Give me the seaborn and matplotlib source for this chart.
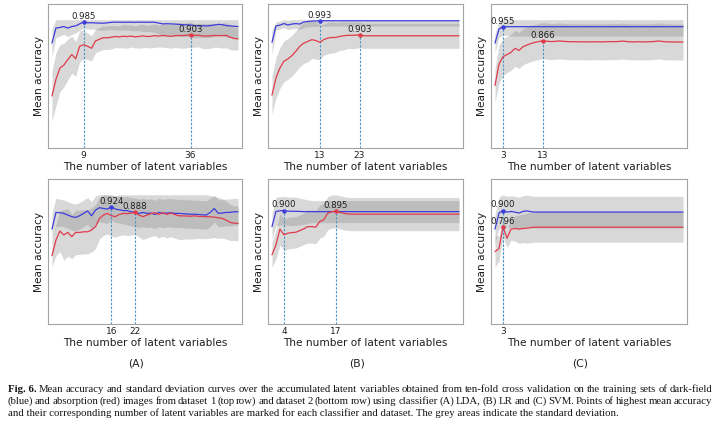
import numpy as np
import matplotlib
matplotlib.use("Agg")
import matplotlib.pyplot as plt
import seaborn as sns

# number of accumulated latent variables
latent_vars = list(range(1, 49))

# ---- dataset 1, LDA ----
lda1_blue_mean = [
    0.850, 0.946, 0.950, 0.956, 0.946, 0.956, 0.960, 0.973, 0.985, 0.980, 0.980, 0.979,
    0.978, 0.977, 0.980, 0.983, 0.984, 0.984, 0.983, 0.984, 0.984, 0.983, 0.984, 0.984,
    0.983, 0.984, 0.983, 0.978, 0.973, 0.974, 0.973, 0.972, 0.970, 0.968, 0.967, 0.966,
    0.962, 0.960, 0.961, 0.960, 0.962, 0.966, 0.970, 0.968, 0.962, 0.960, 0.958, 0.956]
lda1_blue_std = [
    0.090, 0.060, 0.055, 0.050, 0.055, 0.050, 0.045, 0.040, 0.040, 0.040, 0.040, 0.040,
    0.045, 0.045, 0.045, 0.045, 0.050, 0.050, 0.050, 0.050, 0.055, 0.055, 0.055, 0.060,
    0.060, 0.060, 0.065, 0.070, 0.075, 0.075, 0.075, 0.075, 0.075, 0.075, 0.075, 0.075,
    0.075, 0.075, 0.075, 0.075, 0.075, 0.075, 0.070, 0.070, 0.075, 0.075, 0.075, 0.075]
lda1_red_mean = [
    0.512, 0.618, 0.690, 0.710, 0.745, 0.777, 0.750, 0.830, 0.840, 0.830, 0.817, 0.864,
    0.875, 0.885, 0.884, 0.888, 0.892, 0.890, 0.894, 0.892, 0.895, 0.890, 0.893, 0.896,
    0.892, 0.894, 0.898, 0.895, 0.899, 0.896, 0.893, 0.897, 0.899, 0.898, 0.900, 0.903,
    0.899, 0.901, 0.896, 0.895, 0.897, 0.899, 0.898, 0.898, 0.900, 0.888, 0.880, 0.877]
lda1_red_std = [
    0.160, 0.170, 0.150, 0.140, 0.130, 0.120, 0.110, 0.100, 0.090, 0.085, 0.080, 0.075,
    0.075, 0.075, 0.075, 0.075, 0.070, 0.070, 0.075, 0.075, 0.070, 0.070, 0.075, 0.075,
    0.070, 0.075, 0.075, 0.070, 0.075, 0.075, 0.075, 0.075, 0.080, 0.080, 0.080, 0.080,
    0.075, 0.075, 0.080, 0.080, 0.080, 0.075, 0.075, 0.080, 0.080, 0.080, 0.075, 0.070]

# ---- dataset 1, LR ----
lr1_blue_mean = [
    0.855, 0.960, 0.965, 0.975, 0.966, 0.972, 0.975, 0.972, 0.985, 0.988, 0.991, 0.992,
    0.993, 0.993, 0.993, 0.993, 0.993, 0.993, 0.993, 0.993, 0.993, 0.993, 0.993, 0.993,
    0.993, 0.993, 0.993, 0.993, 0.993, 0.993, 0.993, 0.993, 0.993, 0.993, 0.993, 0.993,
    0.993, 0.993, 0.993, 0.993, 0.993, 0.993, 0.993, 0.993, 0.993, 0.993, 0.993, 0.993]
lr1_blue_std = [
    0.080, 0.025, 0.025, 0.025, 0.030, 0.030, 0.030, 0.035, 0.035, 0.035, 0.035, 0.035,
    0.035, 0.035, 0.035, 0.035, 0.035, 0.035, 0.035, 0.035, 0.035, 0.035, 0.035, 0.035,
    0.035, 0.035, 0.035, 0.035, 0.035, 0.035, 0.035, 0.035, 0.035, 0.035, 0.035, 0.035,
    0.035, 0.035, 0.035, 0.035, 0.035, 0.035, 0.035, 0.035, 0.035, 0.035, 0.035, 0.035]
lr1_red_mean = [
    0.518, 0.628, 0.692, 0.734, 0.749, 0.770, 0.798, 0.830, 0.850, 0.861, 0.872, 0.867,
    0.855, 0.872, 0.882, 0.886, 0.886, 0.893, 0.897, 0.900, 0.900, 0.901, 0.903, 0.897,
    0.897, 0.897, 0.897, 0.897, 0.897, 0.897, 0.897, 0.897, 0.897, 0.897, 0.897, 0.897,
    0.897, 0.897, 0.897, 0.897, 0.897, 0.897, 0.897, 0.897, 0.897, 0.897, 0.897, 0.897]
lr1_red_std = [
    0.120, 0.130, 0.130, 0.130, 0.130, 0.130, 0.130, 0.130, 0.130, 0.130, 0.120, 0.120,
    0.110, 0.100, 0.100, 0.100, 0.095, 0.090, 0.090, 0.085, 0.085, 0.085, 0.082, 0.080,
    0.080, 0.080, 0.080, 0.080, 0.080, 0.080, 0.080, 0.080, 0.080, 0.080, 0.080, 0.080,
    0.080, 0.080, 0.080, 0.080, 0.080, 0.080, 0.080, 0.080, 0.080, 0.080, 0.080, 0.080]

# ---- dataset 1, SVM ----
svm1_blue_mean = [
    0.850, 0.940, 0.955, 0.955, 0.955, 0.955, 0.955, 0.955, 0.955, 0.955, 0.955, 0.955,
    0.955, 0.955, 0.955, 0.955, 0.955, 0.955, 0.955, 0.955, 0.955, 0.955, 0.955, 0.955,
    0.955, 0.955, 0.955, 0.955, 0.955, 0.955, 0.955, 0.955, 0.955, 0.955, 0.955, 0.955,
    0.955, 0.955, 0.955, 0.955, 0.955, 0.955, 0.955, 0.955, 0.955, 0.955, 0.955, 0.955]
svm1_blue_std = [
    0.060, 0.050, 0.055, 0.055, 0.060, 0.060, 0.060, 0.060, 0.060, 0.060, 0.060, 0.060,
    0.060, 0.060, 0.060, 0.060, 0.060, 0.060, 0.060, 0.060, 0.060, 0.060, 0.060, 0.060,
    0.060, 0.060, 0.060, 0.060, 0.060, 0.060, 0.060, 0.060, 0.060, 0.060, 0.060, 0.060,
    0.060, 0.060, 0.060, 0.060, 0.060, 0.060, 0.060, 0.060, 0.060, 0.060, 0.060, 0.060]
svm1_red_mean = [
    0.580, 0.716, 0.763, 0.777, 0.791, 0.817, 0.803, 0.827, 0.838, 0.848, 0.855, 0.860,
    0.866, 0.862, 0.860, 0.861, 0.864, 0.862, 0.860, 0.859, 0.859, 0.858, 0.859, 0.858,
    0.858, 0.859, 0.858, 0.858, 0.859, 0.860, 0.859, 0.861, 0.863, 0.860, 0.858, 0.858,
    0.859, 0.858, 0.858, 0.859, 0.861, 0.864, 0.860, 0.858, 0.858, 0.857, 0.857, 0.857]
svm1_red_std = [
    0.110, 0.120, 0.120, 0.115, 0.115, 0.115, 0.115, 0.115, 0.115, 0.115, 0.115, 0.115,
    0.115, 0.115, 0.115, 0.115, 0.115, 0.115, 0.115, 0.115, 0.115, 0.115, 0.115, 0.115,
    0.115, 0.115, 0.115, 0.115, 0.115, 0.115, 0.115, 0.115, 0.115, 0.115, 0.115, 0.115,
    0.115, 0.115, 0.115, 0.115, 0.115, 0.115, 0.115, 0.115, 0.115, 0.115, 0.115, 0.115]

# ---- dataset 2, LDA ----
lda2_blue_mean = [
    0.782, 0.888, 0.886, 0.882, 0.871, 0.861, 0.856, 0.867, 0.882, 0.897, 0.867, 0.903,
    0.918, 0.913, 0.909, 0.924, 0.909, 0.905, 0.900, 0.899, 0.892, 0.888, 0.882, 0.888,
    0.882, 0.884, 0.875, 0.888, 0.882, 0.884, 0.886, 0.882, 0.882, 0.880, 0.878, 0.877,
    0.876, 0.875, 0.873, 0.871, 0.888, 0.913, 0.882, 0.884, 0.888, 0.888, 0.892, 0.892]
lda2_blue_std = [
    0.100, 0.090, 0.085, 0.085, 0.085, 0.085, 0.085, 0.085, 0.085, 0.085, 0.090, 0.090,
    0.090, 0.090, 0.090, 0.085, 0.085, 0.085, 0.085, 0.090, 0.090, 0.090, 0.090, 0.090,
    0.090, 0.090, 0.090, 0.090, 0.090, 0.090, 0.090, 0.090, 0.090, 0.090, 0.090, 0.090,
    0.090, 0.090, 0.090, 0.090, 0.090, 0.085, 0.085, 0.085, 0.085, 0.085, 0.085, 0.085]
lda2_red_mean = [
    0.613, 0.712, 0.770, 0.745, 0.761, 0.734, 0.761, 0.761, 0.765, 0.765, 0.776, 0.797,
    0.850, 0.871, 0.882, 0.867, 0.861, 0.875, 0.882, 0.880, 0.884, 0.888, 0.871, 0.861,
    0.871, 0.880, 0.886, 0.875, 0.887, 0.875, 0.884, 0.875, 0.867, 0.866, 0.865, 0.864,
    0.866, 0.863, 0.862, 0.861, 0.860, 0.858, 0.854, 0.850, 0.839, 0.825, 0.820, 0.818]
lda2_red_std = [
    0.070, 0.100, 0.130, 0.160, 0.150, 0.140, 0.140, 0.140, 0.140, 0.140, 0.140, 0.140,
    0.130, 0.130, 0.130, 0.130, 0.130, 0.135, 0.135, 0.140, 0.140, 0.140, 0.140, 0.145,
    0.145, 0.145, 0.145, 0.150, 0.150, 0.150, 0.150, 0.150, 0.150, 0.150, 0.145, 0.145,
    0.145, 0.140, 0.140, 0.140, 0.135, 0.130, 0.130, 0.125, 0.120, 0.115, 0.110, 0.110]

# ---- dataset 2, LR ----
lr2_blue_mean = [
    0.798, 0.894, 0.898, 0.900, 0.896, 0.895, 0.895, 0.894, 0.893, 0.893, 0.893, 0.893,
    0.893, 0.893, 0.893, 0.893, 0.893, 0.893, 0.893, 0.893, 0.893, 0.893, 0.893, 0.893,
    0.893, 0.893, 0.893, 0.893, 0.893, 0.893, 0.893, 0.893, 0.893, 0.893, 0.893, 0.893,
    0.893, 0.893, 0.893, 0.893, 0.893, 0.893, 0.893, 0.893, 0.893, 0.893, 0.893, 0.893]
lr2_blue_std = [
    0.080, 0.090, 0.090, 0.090, 0.090, 0.090, 0.090, 0.085, 0.080, 0.075, 0.070, 0.070,
    0.070, 0.070, 0.070, 0.070, 0.070, 0.070, 0.070, 0.070, 0.070, 0.070, 0.070, 0.070,
    0.070, 0.070, 0.070, 0.070, 0.070, 0.070, 0.070, 0.070, 0.070, 0.070, 0.070, 0.070,
    0.070, 0.070, 0.070, 0.070, 0.070, 0.070, 0.070, 0.070, 0.070, 0.070, 0.070, 0.070]
lr2_red_mean = [
    0.619, 0.682, 0.782, 0.746, 0.756, 0.760, 0.762, 0.773, 0.784, 0.798, 0.798, 0.794,
    0.830, 0.841, 0.883, 0.893, 0.895, 0.889, 0.883, 0.878, 0.877, 0.877, 0.877, 0.877,
    0.877, 0.877, 0.877, 0.877, 0.877, 0.877, 0.877, 0.877, 0.877, 0.877, 0.877, 0.877,
    0.877, 0.877, 0.877, 0.877, 0.877, 0.877, 0.877, 0.877, 0.877, 0.877, 0.877, 0.877]
lr2_red_std = [
    0.080, 0.090, 0.100, 0.100, 0.100, 0.100, 0.100, 0.100, 0.100, 0.105, 0.105, 0.105,
    0.105, 0.105, 0.105, 0.105, 0.105, 0.105, 0.105, 0.105, 0.105, 0.105, 0.105, 0.105,
    0.105, 0.105, 0.105, 0.105, 0.105, 0.105, 0.105, 0.105, 0.105, 0.105, 0.105, 0.105,
    0.105, 0.105, 0.105, 0.105, 0.105, 0.105, 0.105, 0.105, 0.105, 0.105, 0.105, 0.105]

# ---- dataset 2, SVM ----
svm2_blue_mean = [
    0.782, 0.884, 0.900, 0.890, 0.894, 0.890, 0.884, 0.894, 0.898, 0.892, 0.890, 0.890,
    0.890, 0.890, 0.890, 0.890, 0.890, 0.890, 0.890, 0.890, 0.890, 0.890, 0.890, 0.890,
    0.890, 0.890, 0.890, 0.890, 0.890, 0.890, 0.890, 0.890, 0.890, 0.890, 0.890, 0.890,
    0.890, 0.890, 0.890, 0.890, 0.890, 0.890, 0.890, 0.890, 0.890, 0.890, 0.890, 0.890]
svm2_blue_std = [
    0.090, 0.100, 0.100, 0.100, 0.100, 0.100, 0.100, 0.100, 0.100, 0.100, 0.100, 0.100,
    0.100, 0.100, 0.100, 0.100, 0.100, 0.100, 0.100, 0.100, 0.100, 0.100, 0.100, 0.100,
    0.100, 0.100, 0.100, 0.100, 0.100, 0.100, 0.100, 0.100, 0.100, 0.100, 0.100, 0.100,
    0.100, 0.100, 0.100, 0.100, 0.100, 0.100, 0.100, 0.100, 0.100, 0.100, 0.100, 0.100]
svm2_red_mean = [
    0.639, 0.659, 0.796, 0.724, 0.782, 0.786, 0.782, 0.786, 0.788, 0.792, 0.794, 0.794,
    0.794, 0.794, 0.794, 0.794, 0.794, 0.794, 0.794, 0.794, 0.794, 0.794, 0.794, 0.794,
    0.794, 0.794, 0.794, 0.794, 0.794, 0.794, 0.794, 0.794, 0.794, 0.794, 0.794, 0.794,
    0.794, 0.794, 0.794, 0.794, 0.794, 0.794, 0.794, 0.794, 0.794, 0.794, 0.794, 0.794]
svm2_red_std = [
    0.100, 0.080, 0.060, 0.060, 0.070, 0.080, 0.090, 0.090, 0.095, 0.095, 0.095, 0.095,
    0.095, 0.095, 0.095, 0.095, 0.095, 0.095, 0.095, 0.095, 0.095, 0.095, 0.095, 0.095,
    0.095, 0.095, 0.095, 0.095, 0.095, 0.095, 0.095, 0.095, 0.095, 0.095, 0.095, 0.095,
    0.095, 0.095, 0.095, 0.095, 0.095, 0.095, 0.095, 0.095, 0.095, 0.095, 0.095, 0.095]

panel_tags = ['(A)', '(B)', '(C)']
caption_head = 'Fig. 6.'
caption_lines = [
    'Mean accuracy and standard deviation curves over the accumulated latent variables '
    'obtained from ten-fold cross validation on the training sets of dark-field',
    '(blue) and absorption (red) images from dataset 1 (top row) and dataset 2 (bottom row) '
    'using classifier (A) LDA, (B) LR and (C) SVM. Points of highest mean accuracy',
    'and their corresponding number of latent variables are marked for each classifier '
    'and dataset. The grey areas indicate the standard deviation.',
]

BLUE = '#3d3ddb'
RED = '#e03b4b'
DOT = '#4a93c6'
SPINE = '#a4a4a4'
TEXT = '#1e1e1e'
CAPTION = '#141414'
Y_LOW, Y_HIGH = 0.18, 1.10
W, H = 720, 424


def draw_panel(ax, blue_mean, blue_std, red_mean, red_std):
    x = np.array(latent_vars)
    series = [(np.array(blue_mean), np.array(blue_std), BLUE),
              (np.array(red_mean), np.array(red_std), RED)]

    # grey std areas first, accuracy can not go past 1
    for mean, std, _ in series:
        ax.fill_between(x, mean - std, np.minimum(mean + std, 1.0),
                        color='grey', alpha=0.3, linewidth=0)

    best_xs = []
    for mean, std, color in series:
        sns.lineplot(x=x, y=mean, color=color, linewidth=0.9, ax=ax)
        i = int(np.argmax(mean))
        bx, by = x[i], mean[i]
        best_xs.append(bx)
        ax.vlines(bx, Y_LOW, by, colors=DOT, linestyles=(0, (2, 1.5)), linewidth=0.8)
        ax.plot([bx], [by], marker='o', markersize=2.2, color=color)
        ax.annotate(f'{by:.3f}', (bx, by), xytext=(0, 0.8), textcoords='offset points',
                    ha='center', va='bottom', fontsize=6.2, color=TEXT)

    ax.set_xlim(0, 49)
    ax.set_ylim(Y_LOW, Y_HIGH)
    ax.set_xticks(sorted(set(best_xs)))
    ax.set_yticks([])
    ax.tick_params(axis='x', length=0, pad=2.5, labelsize=6.5, labelcolor=TEXT)
    ax.set_xlabel('The number of latent variables', fontsize=7.6, color=TEXT, labelpad=1.2)
    ax.set_ylabel('Mean accuracy', fontsize=7.6, color=TEXT, labelpad=3)
    for sp in ax.spines.values():
        sp.set_color(SPINE)
        sp.set_linewidth(0.8)
        sp.set_visible(True)


def justify_line(fig, renderer, tokens, y_px, fs, left_px, right_px):
    # tokens: list of (word, weight); spread the words over the full width
    texts = [fig.text(0, 1 - y_px / H, word, family=SERIF, fontweight=weight,
                      fontsize=fs, va='center', color=CAPTION) for word, weight in tokens]
    widths = [t.get_window_extent(renderer).width for t in texts]
    space = (right_px - left_px - sum(widths)) / (len(texts) - 1)
    x = left_px
    for t, w in zip(texts, widths):
        t.set_x(x / W)
        x += w + space


sns.set_style('white')
plt.rcParams['font.family'] = ['DejaVu Sans']
SERIF = ['Liberation Serif', 'DejaVu Serif']

fig = plt.figure(figsize=(W / 100, H / 100), dpi=100)

# pixel boxes of the six panels
col_px = [(48, 242), (268, 463), (491, 687)]
row_px = [(4, 148), (179, 324)]
panels = [
    (lda1_blue_mean, lda1_blue_std, lda1_red_mean, lda1_red_std),
    (lr1_blue_mean, lr1_blue_std, lr1_red_mean, lr1_red_std),
    (svm1_blue_mean, svm1_blue_std, svm1_red_mean, svm1_red_std),
    (lda2_blue_mean, lda2_blue_std, lda2_red_mean, lda2_red_std),
    (lr2_blue_mean, lr2_blue_std, lr2_red_mean, lr2_red_std),
    (svm2_blue_mean, svm2_blue_std, svm2_red_mean, svm2_red_std),
]
k = 0
for top, bottom in row_px:
    for left, right in col_px:
        ax = fig.add_axes([left / W, 1 - bottom / H, (right - left) / W, (bottom - top) / H])
        draw_panel(ax, *panels[k])
        k += 1

for (left, right), tag in zip(col_px, panel_tags):
    fig.text((left + right) / 2 / W - 8.5 / W, 1 - 363 / H, tag,
             ha='center', va='center', fontsize=7.8, color=TEXT)

# caption: font size taken from the last (unjustified) line, first two lines justified
renderer = fig.canvas.get_renderer()
left_px, right_px = 7.5, 712.5
line_y = [389, 401, 413]
probe = fig.text(0, 0, caption_lines[2], family=SERIF, fontsize=7.0)
fs = 7.0 * 608 / probe.get_window_extent(renderer).width
probe.remove()

first = [(caption_head, 'bold')] + [(w, 'normal') for w in caption_lines[0].split(' ')]
justify_line(fig, renderer, first, line_y[0], fs, left_px, right_px)
second = [(w, 'normal') for w in caption_lines[1].split(' ')]
justify_line(fig, renderer, second, line_y[1], fs, left_px, right_px)
fig.text(left_px / W, 1 - line_y[2] / H, caption_lines[2], family=SERIF, fontsize=fs,
         va='center', color=CAPTION)

fig.savefig('out.png', dpi=100)
